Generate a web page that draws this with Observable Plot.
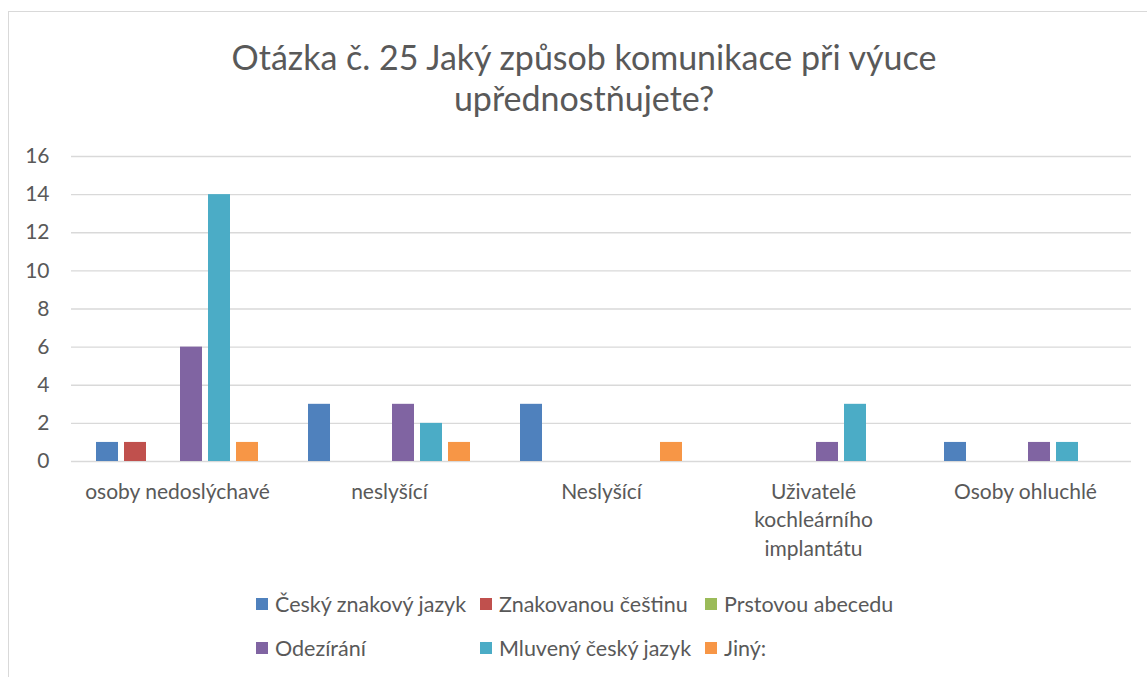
<!DOCTYPE html>
<html>
<head>
<meta charset="utf-8">
<script src="https://cdn.jsdelivr.net/npm/d3@7"></script>
<script src="https://cdn.jsdelivr.net/npm/@observablehq/plot@0.6"></script>
<style>
  html, body { margin: 0; padding: 0; background: #fff; }
  body { width: 1147px; height: 677px; position: relative; overflow: hidden; font-family: Lato, "Open Sans", sans-serif; color: #595959; }
  #frame { position: absolute; left: 8px; top: 11px; width: 1200px; height: 700px; border-left: 1px solid #d9d9d9; border-top: 1px solid #d9d9d9; }
  #title { position: absolute; left: 0; top: 36px; width: 1168px; text-align: center; font-size: 34px; line-height: 41px; color: #595959; }
  #chart { position: absolute; left: 0; top: 130px; }
  #legend { position: absolute; left: 256px; top: 592px; width: 700px; display: grid; grid-template-columns: 224px 225px 225px; grid-auto-rows: 24px; row-gap: 20px; font-size: 21.5px; color: #595959; }
  .item { display: flex; align-items: center; white-space: nowrap; height: 24px; }
  .sw { width: 12px; height: 12px; margin-right: 7px; flex: none; }
</style>
</head>
<body>
<div id="frame"></div>
<div id="title">Otázka č. 25 Jaký způsob komunikace při výuce<br>upřednostňujete?</div>
<div id="chart"></div>
<div id="legend"></div>
<script>
const categories = ["osoby nedoslýchavé", "neslyšící", "Neslyšící", "Uživatelé kochleárního implantátu", "Osoby ohluchlé"];
const categoryLabels = ["osoby nedoslýchavé", "neslyšící", "Neslyšící", "Uživatelé\nkochleárního\nimplantátu", "Osoby ohluchlé"];
const series = ["Český znakový jazyk", "Znakovanou češtinu", "Prstovou abecedu", "Odezírání", "Mluvený český jazyk", "Jiný:"];
const colors = ["#4f81bd", "#c0504d", "#9bbb59", "#8064a2", "#4bacc6", "#f79646"];
const values = {
  "Český znakový jazyk":  [1, 3, 3, 0, 1],
  "Znakovanou češtinu":   [1, 0, 0, 0, 0],
  "Prstovou abecedu":     [0, 0, 0, 0, 0],
  "Odezírání":            [6, 3, 0, 1, 1],
  "Mluvený český jazyk":  [14, 2, 0, 3, 1],
  "Jiný:":                [1, 1, 1, 0, 0]
};
const yTicks = [0, 2, 4, 6, 8, 10, 12, 14, 16];

const data = [];
categories.forEach((c, i) => series.forEach(s => data.push({category: c, series: s, value: values[s][i]})));
const labelOf = new Map(categories.map((c, i) => [c, categoryLabels[i]]));

const plot = Plot.plot({
  width: 1147,
  height: 445,
  marginLeft: 71,
  marginRight: 16,
  marginTop: 26,
  marginBottom: 114,
  style: { fontFamily: "Lato, 'Open Sans', sans-serif", fontSize: "21px", color: "#595959", background: "transparent" },
  fx: { domain: categories, padding: 0, label: null },
  x: { domain: series, paddingInner: 6 / 28, paddingOuter: 0.893, round: false, axis: null },
  y: { domain: [0, 16], label: null },
  color: { domain: series, range: colors },
  marks: [
    Plot.gridY(yTicks, { stroke: "#d9d9d9", strokeOpacity: 1, strokeWidth: 1.3 }),
    Plot.barY(data.filter(d => d.value > 0), { fx: "category", x: "series", y: "value", fill: "series" }),
    Plot.axisY(yTicks, { tickSize: 0, tickPadding: 22, fontSize: 21, label: null }),
    Plot.axisFx({ anchor: "bottom", tickSize: 0, tickPadding: 17, fontSize: 21, lineHeight: 1.36, tickFormat: d => labelOf.get(d), label: null })
  ]
});
document.getElementById("chart").appendChild(plot);

const legend = document.getElementById("legend");
series.forEach((s, i) => {
  const it = document.createElement("div");
  it.className = "item";
  const sw = document.createElement("span");
  sw.className = "sw";
  sw.style.background = colors[i];
  it.appendChild(sw);
  it.appendChild(document.createTextNode(s));
  legend.appendChild(it);
});
</script>
</body>
</html>
